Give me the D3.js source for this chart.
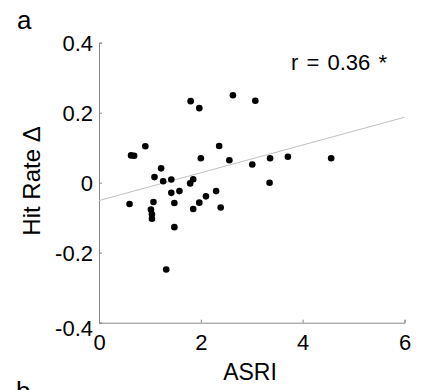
<!DOCTYPE html>
<html><head><meta charset="utf-8">
<script src="https://cdn.jsdelivr.net/npm/d3@7"></script>
<style>body{margin:0;background:#fff}svg{display:block}text{font-family:"Liberation Sans",Arial,Helvetica,sans-serif}</style>
</head><body>
<script>
const asri = [0.60,0.63,0.69,0.91,1.02,1.04,1.04,1.07,1.09,1.22,1.26,1.32,1.42,1.42,1.48,1.48,1.58,1.80,1.79,1.85,1.85,1.97,1.97,2.00,2.10,2.30,2.36,2.39,2.56,2.63,3.01,3.07,3.36,3.35,3.71,4.56];
const hitDelta = [-0.061,0.078,0.077,0.104,-0.077,-0.090,-0.103,-0.055,0.016,0.041,0.004,-0.248,0.009,-0.029,-0.058,-0.127,-0.024,0.233,-0.002,0.010,-0.075,0.213,-0.057,0.070,-0.039,-0.024,0.105,-0.071,0.064,0.250,0.052,0.234,0.070,0.000,0.074,0.070];
const fitX = [0, 6];
const fitY = [-0.051, 0.187];
const xTicks = [0,2,4,6];
const yTicks = [-0.4,-0.2,0,0.2,0.4];
const yTickLabels = ["-0.4","-0.2","0","0.2","0.4"];

const W=424,H=390;
const svg=d3.select("body").append("svg").attr("width",W).attr("height",H);
svg.append("rect").attr("width",W).attr("height",H).attr("fill","#fff");
const x=d3.scaleLinear().domain([0,6]).range([99,404.5]);
const y=d3.scaleLinear().domain([-0.4,0.4]).range([322.7,42.7]);
const axisCol="#888";
const fs=22;

// x axis
const gx=svg.append("g").attr("transform",`translate(0,${y(-0.4)})`)
  .call(d3.axisBottom(x).tickValues(xTicks).tickSize(-3).tickPadding(0).tickFormat(d3.format("d")));
gx.select(".domain").attr("stroke",axisCol);
gx.selectAll(".tick line").attr("stroke",axisCol);
gx.selectAll(".tick text").attr("y",12).attr("dy","0.71em").attr("font-size",fs).attr("fill","#000");

// y axis
const gy=svg.append("g").attr("transform",`translate(${x(0)},0)`)
  .call(d3.axisLeft(y).tickValues(yTicks).tickSize(-3).tickPadding(6).tickFormat((d,i)=>yTickLabels[i]));
gy.select(".domain").attr("stroke",axisCol);
gy.selectAll(".tick line").attr("stroke",axisCol);
gy.selectAll(".tick text").attr("font-size",fs).attr("fill","#000")
  .attr("dy",(d)=> d===-0.4 ? "0.58em" : "0.36em");

// regression line
svg.append("line").attr("x1",x(fitX[0])).attr("y1",y(fitY[0])).attr("x2",x(fitX[1])).attr("y2",y(fitY[1]))
  .attr("stroke","#c0c0c0").attr("stroke-width",1);

// points
svg.append("g").selectAll("circle").data(asri).join("circle")
  .attr("cx",d=>x(d)).attr("cy",(d,i)=>y(hitDelta[i])).attr("r",3.3).attr("fill","#000");

// labels
svg.append("text").attr("x",250).attr("y",380).attr("text-anchor","middle").attr("font-size",23).text("ASRI");
svg.append("text").attr("transform",`translate(40,181) rotate(-90)`).attr("text-anchor","middle").attr("font-size",24).text("Hit Rate \u0394");
svg.append("text").attr("x",387).attr("y",70).attr("text-anchor","end").attr("font-size",fs).attr("word-spacing",2).text("r = 0.36 *");
svg.append("text").attr("x",17).attr("y",29).attr("font-size",26).text("a");
svg.append("text").attr("x",16).attr("y",400).attr("font-size",26).text("b");
</script>
</body></html>
